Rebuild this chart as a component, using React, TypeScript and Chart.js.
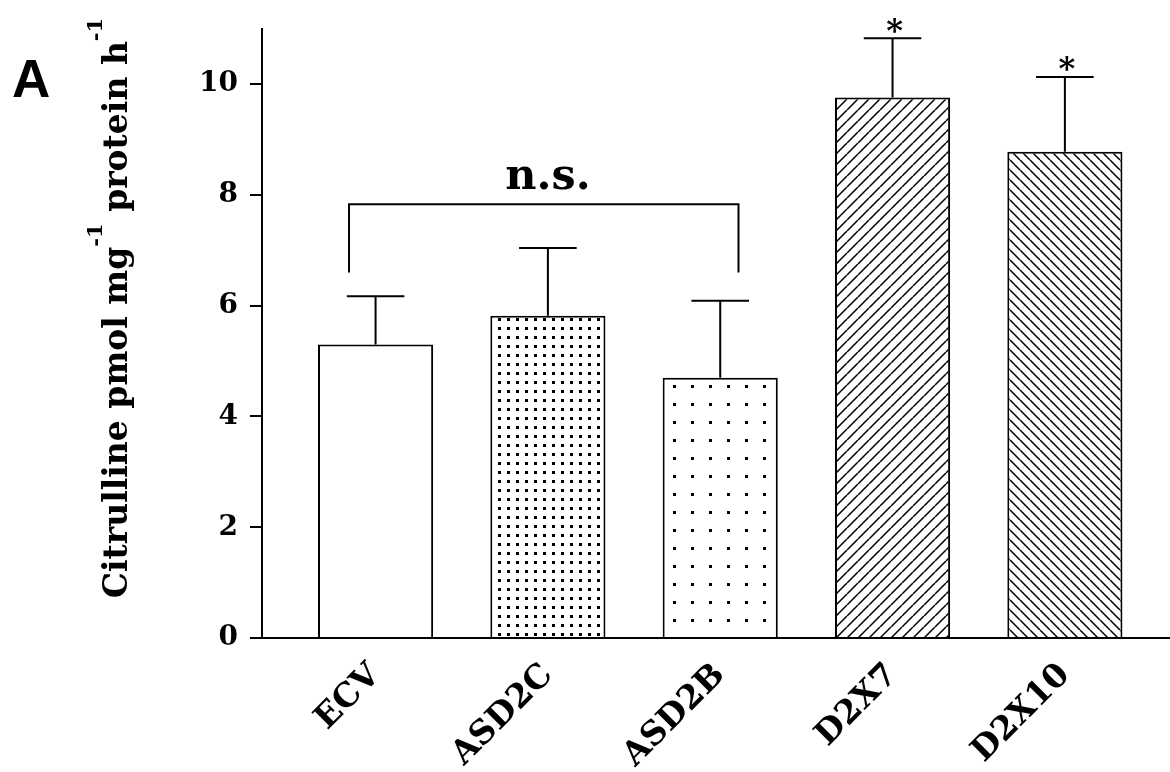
import React, { useEffect, useRef } from 'react';
import { Chart, registerables } from 'chart.js';

Chart.register(...registerables);

// ---- data ----
const CATEGORIES = ['ECV', 'ASD2C', 'ASD2B', 'D2X7', 'D2X10'];
const MEANS = [5.3, 5.82, 4.7, 9.76, 8.78];
const SEM = [0.87, 1.22, 1.39, 1.07, 1.35];
const SIGNIFICANCE = ['', '', '', '*', '*'];
const Y_TICKS = [0, 2, 4, 6, 8, 10];
const Y_MAX = 11;
const X_MIN = 0.341;
const X_MAX = 5.61;
const NS_LABEL = 'n.s.';
const NS_FROM = 0.846;
const NS_TO = 3.106;
const NS_LEVEL = 7.83;
const NS_LEG_END = 6.6;
const NS_TEXT_X = 2.0;
const PANEL_LABEL = 'A';
const Y_TITLE = [
  { text: 'Citrulline pmol mg', sup: false },
  { text: '-1', sup: true },
  { text: ' protein h', sup: false },
  { text: '-1', sup: true },
];

const SERIF = '"DejaVu Serif", serif';

function tile(size: number, draw: (ctx: CanvasRenderingContext2D, s: number) => void) {
  const c = document.createElement('canvas');
  c.width = size;
  c.height = size;
  const ctx = c.getContext('2d')!;
  ctx.fillStyle = '#fff';
  ctx.fillRect(0, 0, size, size);
  ctx.fillStyle = '#000';
  ctx.strokeStyle = '#000';
  draw(ctx, size);
  return ctx.createPattern(c, 'repeat')!;
}

function makeFills() {
  const denseDots = tile(9, (ctx) => ctx.fillRect(3, 3, 3, 3));
  const sparseDots = tile(18, (ctx) => ctx.fillRect(7, 7, 3, 3));
  const slash = tile(11, (ctx, s) => {
    ctx.lineWidth = 1.5;
    ctx.beginPath();
    for (const k of [-s, 0, s]) {
      ctx.moveTo(k, s);
      ctx.lineTo(k + s, 0);
    }
    ctx.stroke();
  });
  const backslash = tile(10, (ctx, s) => {
    ctx.lineWidth = 1.5;
    ctx.beginPath();
    for (const k of [-s, 0, s]) {
      ctx.moveTo(k, 0);
      ctx.lineTo(k + s, s);
    }
    ctx.stroke();
  });
  return ['#ffffff', denseDots, sparseDots, slash, backslash];
}

const annotations = {
  id: 'annotations',
  afterDatasetsDraw(chart: any) {
    const { ctx } = chart;
    const xs = chart.scales.x;
    const ys = chart.scales.y;
    const meta = chart.getDatasetMeta(0);
    ctx.save();
    ctx.strokeStyle = '#000';
    ctx.fillStyle = '#000';
    ctx.lineWidth = 2;
    // error bars
    MEANS.forEach((m, i) => {
      const bar = meta.data[i];
      const cx = xs.getPixelForValue(i + 1);
      const yTop = ys.getPixelForValue(m);
      const yErr = ys.getPixelForValue(m + SEM[i]);
      const half = bar.width / 4;
      ctx.beginPath();
      ctx.moveTo(cx, yTop);
      ctx.lineTo(cx, yErr);
      ctx.moveTo(cx - half, yErr);
      ctx.lineTo(cx + half, yErr);
      ctx.stroke();
      if (SIGNIFICANCE[i]) {
        ctx.font = `bold 32px ${SERIF}`;
        ctx.textAlign = 'center';
        ctx.textBaseline = 'alphabetic';
        const mt = ctx.measureText(SIGNIFICANCE[i]);
        const center = yErr - 13;
        const base = center + (mt.actualBoundingBoxAscent - mt.actualBoundingBoxDescent) / 2;
        ctx.fillText(SIGNIFICANCE[i], cx + 2, base);
      }
    });
    // n.s. bracket
    const bx1 = xs.getPixelForValue(NS_FROM);
    const bx2 = xs.getPixelForValue(NS_TO);
    const by = ys.getPixelForValue(NS_LEVEL);
    const bl = ys.getPixelForValue(NS_LEG_END);
    ctx.beginPath();
    ctx.moveTo(bx1, bl);
    ctx.lineTo(bx1, by);
    ctx.lineTo(bx2, by);
    ctx.lineTo(bx2, bl);
    ctx.stroke();
    ctx.font = `bold 43px ${SERIF}`;
    ctx.textAlign = 'center';
    ctx.textBaseline = 'alphabetic';
    ctx.fillText(NS_LABEL, xs.getPixelForValue(NS_TEXT_X), by - 15);
    ctx.restore();
  },
  afterDraw(chart: any) {
    const { ctx } = chart;
    ctx.save();
    ctx.fillStyle = '#000';
    // panel label
    ctx.font = 'bold 53px "Liberation Sans", Arial, sans-serif';
    ctx.textAlign = 'left';
    ctx.textBaseline = 'alphabetic';
    ctx.fillText(PANEL_LABEL, 12, 97);
    // y title with superscripts
    const mainFont = `bold 33px ${SERIF}`;
    const supFont = `bold 21px ${SERIF}`;
    let total = 0;
    const widths = Y_TITLE.map((seg) => {
      ctx.font = seg.sup ? supFont : mainFont;
      const w = ctx.measureText(seg.text).width;
      total += w;
      return w;
    });
    ctx.translate(127, 308);
    ctx.rotate(-Math.PI / 2);
    let x = -total / 2;
    Y_TITLE.forEach((seg, i) => {
      ctx.font = seg.sup ? supFont : mainFont;
      ctx.fillText(seg.text, x, seg.sup ? -25 : 0);
      x += widths[i];
    });
    ctx.restore();
  },
};

export default function App() {
  const ref = useRef<HTMLCanvasElement | null>(null);
  useEffect(() => {
    document.body.style.margin = '0';
    const canvas = ref.current!;
    const fills = makeFills();
    const chart = new Chart(canvas, {
      type: 'bar',
      data: {
        datasets: [
          {
            data: MEANS.map((y, i) => ({ x: i + 1, y })),
            backgroundColor: fills as any,
            borderColor: '#000',
            borderWidth: 2,
            borderSkipped: 'bottom',
            barPercentage: 0.668,
            categoryPercentage: 1,
          },
        ],
      },
      options: {
        animation: false,
        responsive: false,
        maintainAspectRatio: false,
        layout: { padding: { top: 25, left: 0, right: 0, bottom: 0 } },
        plugins: { legend: { display: false }, tooltip: { enabled: false } },
        scales: {
          x: {
            type: 'linear',
            min: X_MIN,
            max: X_MAX,
            offset: false,
            grid: { display: false, drawTicks: false },
            border: { display: true, color: '#000', width: 2 },
            ticks: {
              autoSkip: false,
              minRotation: 45,
              maxRotation: 45,
              padding: 18,
              color: '#000',
              font: { family: SERIF, size: 33, weight: 'bold' },
              callback: (v: any) => CATEGORIES[Math.round(v) - 1] ?? '',
            },
            afterBuildTicks: (s: any) => {
              s.ticks = CATEGORIES.map((_, i) => ({ value: i + 1 }));
            },
            afterFit: (s: any) => {
              s.height = 134;
            },
          },
          y: {
            min: 0,
            max: Y_MAX,
            grid: { display: true, drawOnChartArea: false, drawTicks: true, tickLength: 12, color: '#000', lineWidth: 2 },
            border: { display: true, color: '#000', width: 2 },
            ticks: {
              padding: 12,
              color: '#000',
              font: { family: SERIF, size: 28, weight: 'bold' },
            },
            afterBuildTicks: (s: any) => {
              s.ticks = Y_TICKS.map((v) => ({ value: v }));
            },
            afterFit: (s: any) => {
              s.width = 262;
            },
          },
        },
      },
      plugins: [annotations],
    });
    return () => chart.destroy();
  }, []);
  return (
    <div style={{ width: 1170, height: 772, background: '#fff' }}>
      <canvas ref={ref} width={1170} height={772} />
    </div>
  );
}
